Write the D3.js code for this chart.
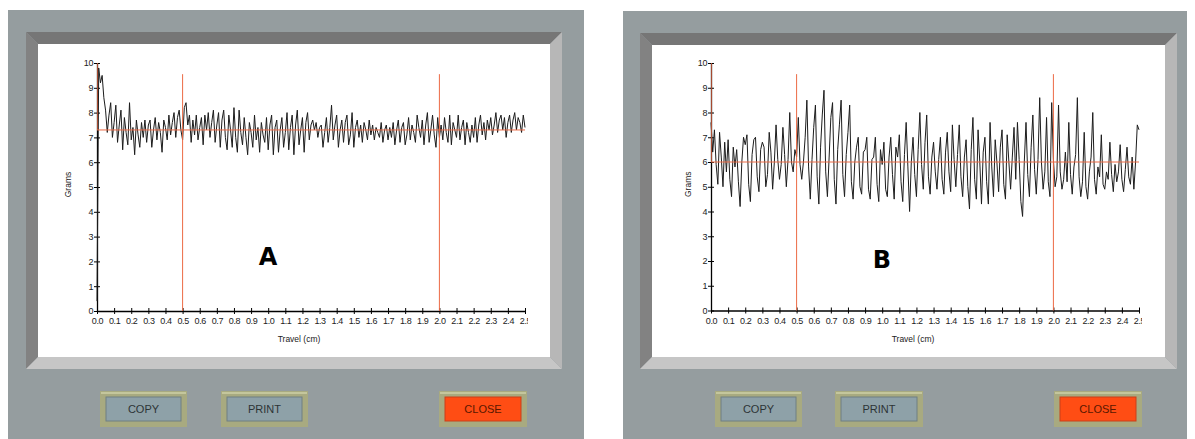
<!DOCTYPE html>
<meta charset="utf-8">
<style>
body { margin: 0; background: #fff; font-family: "Liberation Sans", Arial, sans-serif; }
</style>
<body>
<div id="chart"></div>
<script src="https://d3js.org/d3.v7.min.js"></script>
<script>

// grams read every 0.01 cm of travel, 0.00 .. 2.50
var sampleStep = 0.01;

var gramsA = [
  0.4, 9.8, 9.2, 9.5, 8.6, 8.1, 7.2, 7.9, 8.4, 7.0,
  7.6, 8.3, 6.8, 7.5, 8.1, 6.5, 7.8, 7.2, 6.7, 8.4,
  6.9, 7.4, 6.3, 7.7, 7.1, 6.6, 7.6, 7.0, 7.7, 6.8,
  7.5, 7.7, 6.6, 7.3, 7.8, 6.9, 7.6, 7.2, 6.4, 7.7,
  7.4, 6.9, 7.9, 7.1, 7.6, 8.0, 7.0, 7.8, 8.1, 7.3,
  6.9, 8.2, 8.4, 7.5, 7.9, 6.8, 7.7, 7.1, 7.9, 6.9,
  7.4, 7.8, 6.7, 7.9, 7.3, 8.0, 7.0, 7.6, 8.1, 6.8,
  7.5, 8.0, 6.6, 7.7, 8.1, 7.0, 6.5, 7.9, 7.3, 6.6,
  8.2, 7.0, 6.4, 8.1, 7.2, 6.7, 7.8, 7.0, 6.3, 7.6,
  7.2, 6.6, 7.9, 6.9, 7.4, 6.4, 7.6, 7.1, 6.8, 7.8,
  6.5, 7.5, 7.9, 6.3, 7.4, 7.7, 6.4, 7.3, 7.8, 6.6,
  7.2, 8.0, 6.5, 7.4, 7.9, 6.3, 7.5, 8.1, 6.7, 7.3,
  7.8, 6.4, 7.6, 8.0, 6.9, 7.5, 7.7, 7.3, 7.6, 7.0,
  7.4, 7.5, 6.6, 7.2, 7.8, 6.8, 7.4, 8.3, 6.9, 7.5,
  7.9, 6.6, 7.3, 7.7, 6.8, 7.6, 7.9, 6.7, 7.1, 8.0,
  6.6, 7.4, 7.7, 7.0, 7.5, 6.8, 7.6, 7.3, 6.9, 7.7,
  7.1, 7.5, 6.9, 7.4, 7.2, 7.0, 7.6, 6.8, 7.3, 7.5,
  6.9, 7.4, 7.0, 7.6, 6.7, 7.3, 7.7, 6.8, 7.4, 7.6,
  6.7, 7.1, 7.8, 6.9, 7.5, 7.2, 6.8, 7.9, 7.4, 7.0,
  7.7, 6.7, 7.5, 8.0, 6.8, 7.3, 7.9, 7.1, 6.6, 7.8,
  7.0, 7.5, 6.9, 7.8, 7.2, 6.8, 7.9, 6.7, 7.6, 7.3,
  7.0, 7.9, 6.9, 7.4, 7.7, 6.7, 7.6, 7.2, 6.8, 7.5,
  7.0, 7.8, 6.8, 7.5, 7.9, 7.1, 7.6, 6.9, 7.7, 7.3,
  7.8, 7.1, 7.5, 8.0, 7.2, 7.7, 7.9, 7.3, 7.8, 7.0,
  7.6, 7.9, 7.2, 7.7, 8.0, 7.3, 7.8, 7.6, 7.2, 7.9,
  7.4
];

var gramsB = [
  7.6, 6.4, 7.3, 5.9, 5.1, 7.2, 6.2, 5.0, 6.8, 5.6,
  6.9, 5.3, 4.6, 6.6, 5.8, 6.5, 5.2, 4.2, 6.0, 7.0,
  6.7, 7.1, 5.1, 4.4, 6.3, 6.9, 7.0, 5.4, 4.8, 6.5,
  6.8, 6.6, 5.0, 5.5, 7.2, 6.4, 4.9, 6.0, 7.5, 6.1,
  5.3, 5.9, 7.4, 6.3, 5.0, 6.1, 8.0, 6.0, 5.6, 6.5,
  6.2, 7.8, 5.9, 5.3, 6.0, 7.0, 8.5, 5.8, 4.5, 6.1,
  7.4, 8.3, 5.4, 4.3, 6.6, 7.9, 8.9, 5.6, 4.6, 6.2,
  7.8, 8.4, 5.3, 4.3, 6.5, 7.5, 8.5, 5.5, 4.6, 6.3,
  7.2, 8.3, 5.2, 4.5, 6.0, 6.6, 7.0, 5.0, 4.7, 6.4,
  6.5, 7.0, 4.9, 4.5, 6.1, 6.2, 7.0, 5.1, 4.4, 6.5,
  5.9, 6.8, 4.9, 4.6, 6.2, 7.0, 5.5, 4.5, 6.6, 6.2,
  7.1, 5.2, 4.4, 6.3, 7.6, 5.8, 4.0, 6.0, 7.0, 5.5,
  4.6, 6.5, 8.0, 5.9, 4.9, 6.8, 7.9, 5.4, 4.7, 6.2,
  6.8, 5.6, 4.9, 6.1, 7.0, 5.3, 4.7, 6.4, 7.2, 5.6,
  4.8, 7.5, 6.1, 5.0, 6.3, 7.5, 5.4, 4.6, 6.2, 6.9,
  5.0, 4.1, 6.5, 7.8, 5.3, 4.5, 7.3, 6.0, 4.3, 6.4,
  7.0, 5.2, 4.3, 7.6, 5.8, 4.6, 6.9, 6.0, 4.8, 6.6,
  7.3, 5.1, 4.5, 7.1, 6.0, 4.9, 6.2, 7.4, 5.3, 7.6,
  6.1, 4.4, 3.8, 6.0, 7.6, 5.5, 4.6, 6.6, 7.9, 5.7,
  4.7, 6.1, 8.6, 6.0, 4.9, 5.6, 7.8, 5.2, 4.6, 8.4,
  6.1, 5.0, 5.4, 8.3, 5.6, 4.9, 5.3, 6.4, 5.2, 7.6,
  5.5, 4.7, 5.8, 6.3, 8.6, 5.4, 4.6, 5.2, 7.2, 5.0,
  4.5, 5.6, 6.2, 8.0, 5.3, 4.7, 5.8, 5.4, 7.1, 5.1,
  4.9, 5.6, 5.3, 6.8, 5.5, 4.8, 5.9, 5.2, 5.6, 6.7,
  5.3, 4.8, 5.7, 6.6, 5.4, 5.1, 6.2, 4.9, 6.0, 7.5,
  7.3
];

var meanGrams = [7.3, 6.0];          // red horizontal cursor, A and B
var cursorTravel = [0.5, 2.0];       // red vertical cursors (cm)
var cursorTop = 9.55;
var xTickLabels = ["0.0","0.1","0.2","0.3","0.4","0.5","0.6","0.7","0.8","0.9",
                   "1.0","1.1","1.2","1.3","1.4","1.5","1.6","1.7","1.8","1.9",
                   "2.0","2.1","2.2","2.3","2.4","2.5"];
var yTickLabels = [0, 1, 2, 3, 4, 5, 6, 7, 8, 9, 10];
var buttonLabels = ["COPY", "PRINT", "CLOSE"];
var panelNames = ["A", "B"];

// screen layout of the two dialog panels
var layout = [
  { bg: [8, 10, 576, 429], frame: [26, 32, 562, 369], inner: [38, 44, 550, 357],
    plot: [97, 63, 525, 311], gramsX: 68, letter: [268, 265],
    buttons: [[100, 391, 87, 36], [221, 391, 87, 36], [439, 391, 88, 36]] },
  { bg: [623, 11, 564, 428], frame: [640, 33, 1177, 369], inner: [652, 45, 1165, 357],
    plot: [711, 63, 1139, 310.5], gramsX: 688, letter: [882, 268],
    buttons: [[715, 391, 87, 36], [835, 391, 88, 36], [1054, 391, 88, 36]] }
];

var svg = d3.select("#chart").append("svg")
    .attr("width", 1195)
    .attr("height", 439);

var series = [gramsA, gramsB];

layout.forEach(function(L, p) {
  var g = svg.append("g");
  var f = L.frame, n = L.inner;

  // gray dialog background
  g.append("rect")
    .attr("x", L.bg[0]).attr("y", L.bg[1])
    .attr("width", L.bg[2]).attr("height", L.bg[3])
    .attr("fill", "#959d9f");

  // bevelled frame
  var bevels = [
    [[f[0], f[1]], [f[2], f[1]], [n[2], n[1]], [n[0], n[1]], "#767676"],
    [[f[0], f[1]], [n[0], n[1]], [n[0], n[3]], [f[0], f[3]], "#828282"],
    [[f[0], f[3]], [n[0], n[3]], [n[2], n[3]], [f[2], f[3]], "#c6c6c6"],
    [[f[2], f[1]], [f[2], f[3]], [n[2], n[3]], [n[2], n[1]], "#b7b7b7"]
  ];
  bevels.forEach(function(b) {
    g.append("polygon")
      .attr("points", b.slice(0, 4).map(function(q) { return q.join(","); }).join(" "))
      .attr("fill", b[4]);
  });
  g.append("rect")
    .attr("x", n[0]).attr("y", n[1])
    .attr("width", n[2] - n[0]).attr("height", n[3] - n[1])
    .attr("fill", "#fff");

  var x = d3.scaleLinear().domain([0, 2.5]).range([L.plot[0], L.plot[2]]);
  var y = d3.scaleLinear().domain([0, 10]).range([L.plot[3], L.plot[1]]);

  // the last tick label is cut off at the plot's right edge
  var clipId = "clip" + p;
  g.append("clipPath").attr("id", clipId)
    .append("rect")
    .attr("x", n[0]).attr("y", n[1])
    .attr("width", x(2.5) + 3 - n[0]).attr("height", n[3] - n[1]);

  // x axis
  var xa = g.append("g")
    .attr("clip-path", "url(#" + clipId + ")")
    .append("g")
    .attr("transform", "translate(0," + y(0) + ")")
    .call(d3.axisBottom(x)
      .tickValues(xTickLabels.map(Number))
      .tickFormat(function(d, i) { return xTickLabels[i]; })
      .tickSizeOuter(0));
  xa.select(".domain").attr("stroke", "#000").attr("stroke-width", 1.3);
  xa.selectAll(".tick line").attr("y1", -3).attr("y2", 3).attr("stroke", "#000");
  xa.selectAll(".tick text")
    .attr("y", 7)
    .style("font-family", "'Liberation Sans', Arial, sans-serif")
    .style("font-size", "9px")
    .style("letter-spacing", "-0.4px")
    .attr("fill", "#222");

  // y axis
  var ya = g.append("g")
    .attr("transform", "translate(" + x(0) + ",0)")
    .call(d3.axisLeft(y).tickValues(yTickLabels).tickSizeOuter(0));
  ya.select(".domain").attr("stroke", "#000").attr("stroke-width", 1.3);
  ya.selectAll(".tick line").attr("x1", -3).attr("x2", 3).attr("stroke", "#000");
  ya.selectAll(".tick text")
    .attr("x", -4)
    .style("font-family", "'Liberation Sans', Arial, sans-serif")
    .style("font-size", "9px")
    .style("letter-spacing", "-0.4px")
    .attr("fill", "#222");

  // axis titles
  g.append("text")
    .attr("x", (x(0) + x(2.5)) / 2 - 12)
    .attr("y", y(0) + 31)
    .attr("text-anchor", "middle")
    .style("font-size", "8.5px")
    .attr("fill", "#222")
    .text("Travel (cm)");
  g.append("text")
    .attr("transform", "translate(" + (L.gramsX + 3) + "," + y(5.1) + ") rotate(-90)")
    .attr("text-anchor", "middle")
    .style("font-size", "8.5px")
    .attr("fill", "#222")
    .text("Grams");

  // data trace
  var line = d3.line()
    .x(function(d, i) { return x(i * sampleStep); })
    .y(function(d) { return y(d); });
  g.append("path")
    .datum(series[p])
    .attr("d", line)
    .attr("fill", "none")
    .attr("stroke", "#1c1c1c")
    .attr("stroke-width", 1)
    .attr("stroke-linejoin", "round");

  // red cursors
  var red = "#ec6a45";
  g.append("line")
    .attr("x1", x(0)).attr("x2", x(2.5))
    .attr("y1", y(meanGrams[p])).attr("y2", y(meanGrams[p]))
    .attr("stroke", red).attr("stroke-width", 1);
  cursorTravel.forEach(function(c) {
    g.append("line")
      .attr("x1", x(c)).attr("x2", x(c))
      .attr("y1", y(cursorTop)).attr("y2", y(0))
      .attr("stroke", red).attr("stroke-width", 1);
  });
  g.append("line")
    .attr("x1", x(0) + 0.5).attr("x2", x(0) + 0.5)
    .attr("y1", y(10)).attr("y2", y(meanGrams[p]))
    .attr("stroke", red).attr("stroke-width", 1).attr("opacity", 0.7);

  // panel letter
  g.append("text")
    .attr("x", L.letter[0]).attr("y", L.letter[1])
    .attr("text-anchor", "middle")
    .style("font-family", "'DejaVu Sans', Verdana, sans-serif")
    .style("font-size", "24px")
    .style("font-weight", "bold")
    .attr("fill", "#000")
    .text(panelNames[p]);

  // buttons
  L.buttons.forEach(function(b, i) {
    g.append("rect")
      .attr("x", b[0]).attr("y", b[1]).attr("width", b[2]).attr("height", b[3])
      .attr("fill", "#a8aa80");
    g.append("rect")
      .attr("x", b[0] + 1).attr("y", b[1] + 1).attr("width", b[2] - 2).attr("height", 2)
      .attr("fill", "#c4c69c");
    g.append("rect")
      .attr("x", b[0] + 6).attr("y", b[1] + 6).attr("width", b[2] - 12).attr("height", b[3] - 12)
      .attr("fill", i === 2 ? "#ff4d14" : "#8ea1a8")
      .attr("stroke", i === 2 ? "#c8401a" : "#6f7f82")
      .attr("stroke-width", 1);
    g.append("text")
      .attr("x", b[0] + b[2] / 2).attr("y", b[1] + b[3] / 2 + 4)
      .attr("text-anchor", "middle")
      .style("font-size", "11px")
      .attr("fill", i === 2 ? "#5a1800" : "#2d3436")
      .text(buttonLabels[i]);
  });
});

</script>
</body>
